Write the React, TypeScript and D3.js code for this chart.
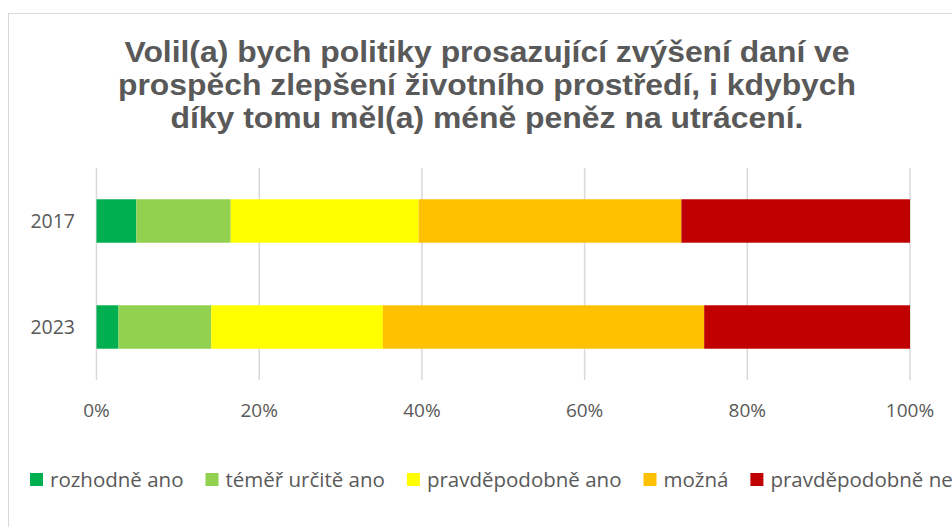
import React, { useEffect, useRef } from "react";
import * as d3 from "d3";

const years = ["2017", "2023"];
const seriesNames = [
  "rozhodně ano",
  "téměř určitě ano",
  "pravděpodobně ano",
  "možná",
  "pravděpodobně ne",
];
const seriesColors = ["#00B050", "#92D050", "#FFFF00", "#FFC000", "#C00000"];
// shares in % per year, in series order
const values2017 = [4.9, 11.6, 23.1, 32.3, 28.1];
const values2023 = [2.7, 11.4, 21.1, 39.5, 25.3];
const tickValues = [0, 20, 40, 60, 80, 100];
const titleLines = [
  "Volil(a) bych politiky prosazující zvýšení daní ve",
  "prospěch zlepšení životního prostředí, i kdybych",
  "díky tomu měl(a) méně peněz na utrácení.",
];
// rendered widths of the title lines in the original
const titleWidths = [725, 738, 633];

const W = 952;
const H = 527;

export default function App() {
  const svgRef = useRef<SVGSVGElement>(null);

  useEffect(() => {
    const svg = d3.select(svgRef.current);
    svg.selectAll("*").remove();

    const font = "'Open Sans', sans-serif";
    const grey = "#595959";

    // chart frame (cut off on the right / bottom)
    svg
      .append("rect")
      .attr("x", 8.5)
      .attr("y", 13.5)
      .attr("width", 1200)
      .attr("height", 800)
      .attr("fill", "#fff")
      .attr("stroke", "#d9d9d9")
      .attr("stroke-width", 1);

    // title
    svg
      .append("g")
      .selectAll("text")
      .data(titleLines)
      .join("text")
      .attr("x", 487)
      .attr("y", (d, i) => 61.5 + i * 33)
      .attr("text-anchor", "middle")
      .attr("textLength", (d, i) => titleWidths[i])
      .attr("lengthAdjust", "spacingAndGlyphs")
      .style("font-family", "'Liberation Sans', Arial, sans-serif")
      .style("font-weight", "700")
      .style("font-size", "29px")
      .attr("fill", grey)
      .text((d) => d);

    const x = d3.scaleLinear().domain([0, 100]).range([96.5, 910]);
    const y = d3
      .scaleBand()
      .domain(years)
      .range([168, 380])
      .paddingInner(0.59)
      .paddingOuter(0.295);

    // grid
    svg
      .append("g")
      .selectAll("line")
      .data(tickValues)
      .join("line")
      .attr("x1", (d) => x(d))
      .attr("x2", (d) => x(d))
      .attr("y1", 168)
      .attr("y2", 380)
      .attr("stroke", "#d9d9d9")
      .attr("stroke-width", 1.5);

    // stacked bars
    const rows = [values2017, values2023].map((vals, i) => {
      const row: any = { year: years[i] };
      seriesNames.forEach((s, j) => (row[s] = vals[j]));
      return row;
    });
    const stack = d3.stack().keys(seriesNames)(rows);
    const color = d3.scaleOrdinal<string>().domain(seriesNames).range(seriesColors);

    svg
      .append("g")
      .selectAll("g")
      .data(stack)
      .join("g")
      .attr("fill", (d) => color(d.key))
      .selectAll("rect")
      .data((d) => d)
      .join("rect")
      .attr("x", (d) => x(d[0]))
      .attr("width", (d) => x(d[1]) - x(d[0]))
      .attr("y", (d: any) => y(d.data.year)!)
      .attr("height", y.bandwidth());

    // category labels
    svg
      .append("g")
      .selectAll("text")
      .data(years)
      .join("text")
      .attr("x", 75)
      .attr("y", (d) => y(d)! + y.bandwidth() / 2)
      .attr("dy", "0.35em")
      .attr("text-anchor", "end")
      .style("font-family", font)
      .style("font-size", "19.5px")
      .attr("fill", grey)
      .text((d) => d);

    // x tick labels
    svg
      .append("g")
      .selectAll("text")
      .data(tickValues)
      .join("text")
      .attr("x", (d) => x(d))
      .attr("y", 417)
      .attr("text-anchor", "middle")
      .style("font-family", font)
      .style("font-size", "19px")
      .attr("fill", grey)
      .text((d) => `${d}%`);

    // legend
    const legend = svg.append("g");
    let lx = 30;
    seriesNames.forEach((name, i) => {
      legend
        .append("rect")
        .attr("x", lx)
        .attr("y", 473)
        .attr("width", 13)
        .attr("height", 13)
        .attr("fill", seriesColors[i]);
      const t = legend
        .append("text")
        .attr("x", lx + 20)
        .attr("y", 486.5)
        .style("font-family", font)
        .style("font-size", "20.5px")
        .attr("fill", grey)
        .text(name);
      const w = (t.node() as SVGTextElement).getComputedTextLength();
      lx = lx + 20 + w + 22;
    });
  }, []);

  return (
    <svg
      ref={svgRef}
      width={W}
      height={H}
      style={{ position: "absolute", left: 0, top: 0, display: "block", background: "#fff" }}
    ></svg>
  );
}
